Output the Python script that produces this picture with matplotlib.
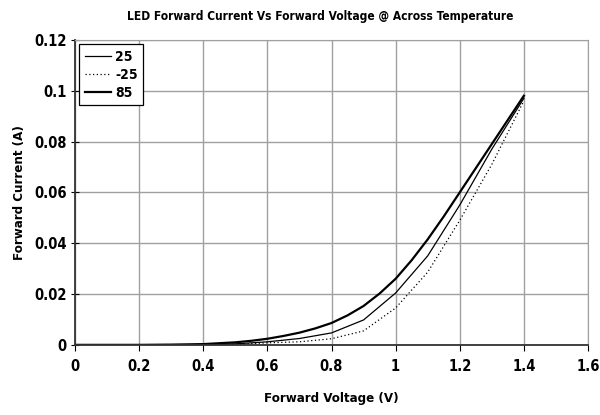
import matplotlib
matplotlib.use("Agg")
import matplotlib.pyplot as plt

plt.rcParams['font.family'] = ['DejaVu Sans']
plt.rcParams['font.stretch'] = 'condensed'
plt.rcParams['font.weight'] = 'bold'

# Forward voltage (V)
voltage = [0.0, 0.1, 0.2, 0.3, 0.4, 0.5, 0.6, 0.7, 0.8, 0.9, 1.0, 1.1, 1.2, 1.3, 1.4]
# Forward current (A) per temperature
current_25 = [0, 0, 0, 0, 0.0001, 0.0004, 0.0012, 0.0025, 0.0047, 0.0098, 0.0204, 0.035, 0.055, 0.077, 0.097]
current_m25 = [0, 0, 0, 0, 0, 0.0002, 0.0008, 0.0012, 0.0024, 0.0055, 0.0145, 0.0286, 0.049, 0.071, 0.096]
voltage_85 = [0.0, 0.2, 0.3, 0.4, 0.5, 0.55, 0.6, 0.65, 0.7, 0.75, 0.8, 0.85, 0.9, 0.95,
              1.0, 1.05, 1.1, 1.15, 1.2, 1.25, 1.3, 1.35, 1.4]
current_85 = [0, 0, 0.0001, 0.0003, 0.001, 0.0016, 0.0024, 0.0035, 0.0048, 0.0065, 0.0086,
              0.0116, 0.0153, 0.0202, 0.026, 0.0333, 0.0415, 0.0505, 0.06, 0.0695, 0.079,
              0.0885, 0.098]

fig = plt.figure(figsize=(6, 4.15), dpi=100)
ax = fig.add_axes([0.125, 0.169, 0.855, 0.735])

ax.plot(voltage, current_25, color='black', lw=0.9, label='25')
ax.plot(voltage, current_m25, color='black', lw=0.9, ls=(0, (1, 2)), label='-25')
ax.plot(voltage_85, current_85, color='black', lw=1.6, label='85')

ax.set_xlim(0, 1.6)
ax.set_ylim(0, 0.12)
ax.set_xticks([0, 0.2, 0.4, 0.6, 0.8, 1.0, 1.2, 1.4, 1.6])
ax.set_xticklabels(['0', '0.2', '0.4', '0.6', '0.8', '1', '1.2', '1.4', '1.6'])
ax.set_yticks([0, 0.02, 0.04, 0.06, 0.08, 0.1, 0.12])
ax.set_yticklabels(['0', '0.02', '0.04', '0.06', '0.08', '0.1', '0.12'])
ax.grid(True, color='#a0a0a0', lw=1)
ax.set_axisbelow(True)

for s in ['top', 'right']:
    ax.spines[s].set_color('#a0a0a0')
for s in ['left', 'bottom']:
    ax.spines[s].set_color('#333333')
    ax.spines[s].set_linewidth(1.3)
ax.tick_params(axis='x', direction='out', length=4, labelsize=10.5, pad=6)
ax.tick_params(axis='y', direction='inout', length=6, labelsize=10.5, pad=3)

ax.set_xlabel('Forward Voltage (V)', fontsize=9.5, fontweight='bold', labelpad=13)
ax.set_ylabel('Forward Current (A)', fontsize=9.5, fontweight='bold', labelpad=6)
fig.text(0.533, 0.952, 'LED Forward Current Vs Forward Voltage @ Across Temperature',
         fontsize=8.6, fontweight='bold', ha='center', va='baseline')

leg = ax.legend(loc='upper left', fancybox=False, framealpha=1, edgecolor='black',
                fontsize=10, handlelength=1.9, handletextpad=0.3,
                borderaxespad=0.3, labelspacing=0.3, borderpad=0.4)
leg.get_frame().set_linewidth(0.9)

fig.savefig('out.png', dpi=100)
